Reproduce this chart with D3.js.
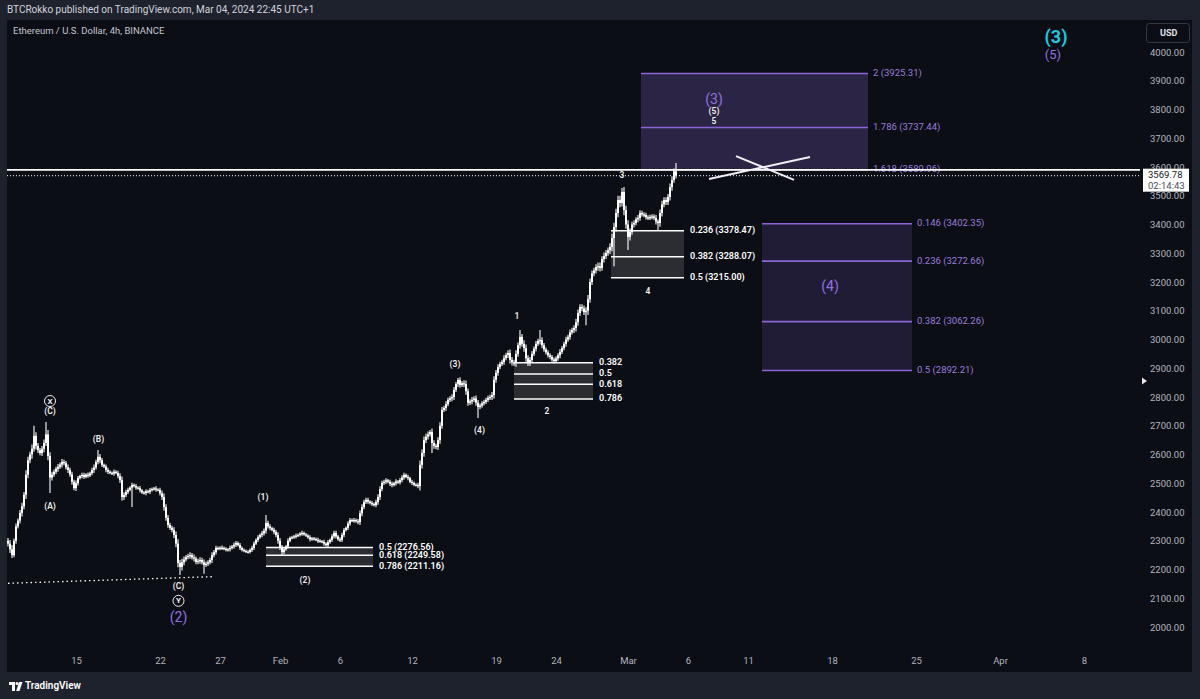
<!DOCTYPE html>
<html>

<head>
    <meta charset="utf-8">
    <style>
        body {
            margin: 0;
            background: #1e222d;
        }

        svg {
            display: block;
            font-family: Roboto, "Open Sans", sans-serif;
        }
    </style>
</head>

<body>
    <svg width="1200" height="699"></svg>

    <script src="https://d3js.org/d3.v7.min.js"></script>
    <script>
        // ETHUSD 4h candles (one close per 4h bar)
        let candleStart = "2024-01-09T08:00:00Z"
        let firstOpen = 2300
        let closes = [
            2290, 2270, 2250, 2300, 2350, 2370, 2397, 2420, 2460, 2530,
            2580, 2600, 2620, 2665, 2630, 2615, 2605, 2620, 2640, 2670,
            2595, 2520, 2530, 2540, 2550, 2557, 2565, 2574, 2570, 2555,
            2546, 2530, 2505, 2483, 2500, 2518, 2525, 2529, 2522, 2530,
            2527, 2535, 2546, 2555, 2574, 2592, 2580, 2564, 2558, 2546,
            2540, 2536, 2534, 2540, 2536, 2525, 2511, 2452, 2459, 2470,
            2477, 2485, 2494, 2490, 2485, 2483, 2475, 2468, 2466, 2472,
            2470, 2476, 2480, 2482, 2478, 2477, 2465, 2452, 2417, 2380,
            2355, 2345, 2337, 2320, 2290, 2223, 2209, 2225, 2235, 2243,
            2247, 2250, 2242, 2238, 2226, 2230, 2233, 2225, 2216, 2220,
            2225, 2233, 2250, 2260, 2275, 2272, 2276, 2275, 2272, 2268,
            2270, 2275, 2280, 2286, 2292, 2285, 2275, 2268, 2265, 2262,
            2261, 2268, 2275, 2290, 2303, 2312, 2320, 2326, 2335, 2362,
            2350, 2344, 2338, 2330, 2320, 2300, 2278, 2261, 2270, 2280,
            2300, 2310, 2312, 2315, 2318, 2320, 2325, 2327, 2322, 2318,
            2312, 2305, 2308, 2306, 2303, 2300, 2298, 2296, 2290, 2285,
            2295, 2303, 2315, 2327, 2315, 2305, 2303, 2320, 2337, 2345,
            2360, 2372, 2370, 2372, 2368, 2365, 2395, 2417, 2435, 2442,
            2436, 2431, 2428, 2424, 2435, 2452, 2480, 2501, 2505, 2510,
            2505, 2498, 2494, 2500, 2506, 2503, 2511, 2520, 2529, 2522,
            2518, 2505, 2501, 2495, 2494, 2490, 2564, 2605, 2650, 2662,
            2670, 2678, 2640, 2630, 2626, 2650, 2700, 2755, 2762, 2775,
            2790, 2795, 2800, 2825, 2845, 2859, 2842, 2848, 2845, 2820,
            2780, 2785, 2790, 2795, 2780, 2765, 2770, 2778, 2783, 2790,
            2797, 2800, 2807, 2860, 2884, 2904, 2915, 2922, 2935, 2946,
            2953, 2929, 2920, 2918, 2950, 2980, 3009, 2985, 2970, 2935,
            2918, 2929, 2950, 2968, 2985, 2995, 2998, 2980, 2965, 2955,
            2945, 2939, 2930, 2925, 2934, 2945, 2957, 2970, 2985, 3000,
            3009, 3025, 3033, 3040, 3060, 3092, 3113, 3108, 3095, 3100,
            3140, 3200, 3230, 3240, 3252, 3255, 3249, 3280, 3290, 3301,
            3310, 3322, 3353, 3391, 3440, 3485, 3475, 3513, 3450, 3400,
            3357, 3374, 3400, 3405, 3418, 3423, 3440, 3435, 3433, 3425,
            3423, 3426, 3428, 3423, 3410, 3405, 3440, 3470, 3485, 3478,
            3496, 3530, 3555, 3585, 3569.78
        ]
        // typical wick length of each bar, in dollars
        let wickSize = [
            20, 25, 30, 15, 20, 15, 20, 25, 20, 30,
            25, 20, 30, 20, 25, 20, 15, 20, 25, 20,
            30, 25, 20, 15, 15, 20, 15, 20, 15, 15,
            20, 15, 20, 15, 20, 15, 10, 15, 15, 10,
            15, 10, 15, 20, 15, 15, 20, 15, 10, 15,
            15, 10, 10, 15, 10, 15, 20, 25, 20, 15,
            15, 10, 15, 10, 15, 10, 15, 10, 10, 15,
            10, 15, 10, 10, 15, 10, 15, 20, 25, 20,
            20, 15, 15, 20, 25, 30, 20, 25, 20, 15,
            15, 20, 15, 20, 15, 15, 20, 15, 20, 15,
            15, 15, 20, 15, 15, 10, 10, 15, 10, 10,
            10, 15, 10, 15, 15, 10, 15, 10, 10, 10,
            10, 10, 15, 15, 10, 15, 10, 15, 15, 20,
            15, 15, 10, 15, 15, 20, 20, 15, 15, 10,
            15, 10, 10, 10, 15, 10, 10, 15, 10, 10,
            10, 15, 10, 10, 10, 15, 10, 10, 15, 10,
            15, 10, 15, 15, 15, 10, 15, 15, 15, 10,
            15, 15, 10, 15, 10, 15, 20, 20, 15, 15,
            15, 10, 15, 10, 15, 20, 20, 15, 15, 15,
            10, 15, 15, 10, 15, 10, 15, 15, 15, 10,
            15, 10, 15, 10, 10, 15, 30, 25, 25, 20,
            20, 15, 25, 20, 15, 20, 25, 20, 15, 20,
            15, 15, 20, 20, 15, 20, 20, 15, 20, 25,
            20, 15, 20, 15, 20, 20, 15, 15, 15, 15,
            15, 15, 20, 25, 20, 20, 15, 15, 20, 15,
            20, 25, 20, 20, 25, 20, 25, 20, 25, 25,
            20, 20, 20, 15, 20, 15, 25, 20, 15, 15,
            15, 15, 15, 15, 15, 15, 20, 15, 15, 20,
            15, 20, 15, 20, 25, 25, 20, 20, 20, 25,
            30, 25, 20, 20, 20, 25, 25, 20, 25, 20,
            20, 25, 30, 30, 30, 30, 30, 25, 35, 30,
            30, 25, 20, 20, 15, 20, 20, 15, 15, 15,
            15, 15, 15, 15, 20, 15, 25, 25, 20, 20,
            20, 25, 25, 20, 20
        ]
        // the long wicks that stick out  [bar index, price]
        let wickHighs = [[13, 2700], [19, 2713], [45, 2616], [129, 2390], [225, 2866], [256, 3033], [266, 3033], [307, 3527], [334, 3614]]
        let wickLows = [[2, 2240], [21, 2466], [62, 2417], [86, 2181], [98, 2185], [137, 2250], [212, 2605], [235, 2727], [289, 3050], [303, 3255], [310, 3311], [325, 3380]]

        let priceTicks = [2000, 2100, 2200, 2300, 2400, 2500, 2600, 2700, 2800, 2900, 3000, 3100, 3200, 3300, 3400, 3500, 3600, 3700, 3800, 3900, 4000]
        let dateTicks = ["2024-01-15", "2024-01-22", "2024-01-27", "2024-02-01", "2024-02-06", "2024-02-12", "2024-02-19", "2024-02-24",
            "2024-03-01", "2024-03-06", "2024-03-11", "2024-03-18", "2024-03-25", "2024-04-01", "2024-04-08"]
        let dateLabels = ["15", "22", "27", "Feb", "6", "12", "19", "24", "Mar", "6", "11", "18", "25", "Apr", "8"]

        let lastPrice = 3569.78
        let countdown = "02:14:43"
        let whiteLevel = 3590

        // fib extension for wave (3)
        let fib3Levels = ["2", "1.786", "1.618"]
        let fib3Prices = [3925.31, 3737.44, 3589.96]
        let fib3Dates = ["2024-03-02T02:00Z", "2024-03-21T00:00Z"]

        // fib retracement for wave (4)
        let fib4Levels = ["0.146", "0.236", "0.382", "0.5"]
        let fib4Prices = [3402.35, 3272.66, 3062.26, 2892.21]
        let fib4Dates = ["2024-03-12T04:00Z", "2024-03-24T16:00Z"]

        // the grey retracement boxes
        let boxW4Levels = ["0.236 (3378.47)", "0.382 (3288.07)", "0.5 (3215.00)"]
        let boxW4Prices = [3378.47, 3288.07, 3215.00]
        let boxW4Dates = ["2024-02-28T14:00Z", "2024-03-05T16:00Z"]

        let boxW2Levels = ["0.382", "0.5", "0.618", "0.786"]
        let boxW2Prices = [2919, 2880, 2844, 2793]
        let boxW2Dates = ["2024-02-20T12:00Z", "2024-02-27T02:00Z"]

        let boxP2Levels = ["0.5 (2276.56)", "0.618 (2249.58)", "0.786 (2211.16)"]
        let boxP2Prices = [2276.56, 2249.58, 2211.16]
        let boxP2Dates = ["2024-01-30T20:00Z", "2024-02-08T18:00Z"]

        // elliott wave labels
        let waveText = ["(C)", "(B)", "(A)", "(C)", "(1)", "(2)", "(3)", "(4)", "1", "2", "3", "4", "(5)", "5"]
        let waveDates = ["2024-01-12T20:00Z", "2024-01-16T21:00Z", "2024-01-12T20:00Z", "2024-01-23T13:00Z", "2024-01-30T14:00Z",
            "2024-02-03T02:00Z", "2024-02-15T14:00Z", "2024-02-17T15:00Z", "2024-02-20T18:00Z", "2024-02-23T06:00Z",
            "2024-02-29T12:00Z", "2024-03-02T16:00Z", "2024-03-08T04:00Z", "2024-03-08T04:00Z"]
        let wavePrices = [2748, 2650, 2417, 2139, 2449, 2160, 2911, 2682, 3078, 2748, 3570, 3165, 3791, 3757]

        let circleText = ["X", "Y"]
        let circleDates = ["2024-01-12T20:00Z", "2024-01-23T13:00Z"]
        let circlePrices = [2786, 2091]

        let bigText = ["(2)", "(3)", "(4)", "(5)"]
        let bigDates = ["2024-01-23T13:00Z", "2024-03-08T04:00Z", "2024-03-17T20:00Z", "2024-04-05T10:00Z"]
        let bigPrices = [2031, 3833, 3183, 3988]

        let cycleText = "(3)"
        let cycleDate = "2024-04-05T16:00Z"
        let cyclePrice = 4049

        // dotted trend line under the lows, and the white "X"
        let trendDates = ["2024-01-09T08:00Z", "2024-01-26T08:00Z"]
        let trendPrices = [2152, 2175]
        let crossA = [["2024-03-07T18:00Z", 3558], ["2024-03-16T04:00Z", 3635]]
        let crossB = [["2024-03-10T00:00Z", 3638], ["2024-03-14T20:00Z", 3555]]

        // ---------------------------------------------------------------

        let svg = d3.select("svg")
        let plotLeft = 7, plotRight = 1140, plotTop = 20, plotBottom = 650

        let x = d3.scaleUtc()
            .domain([new Date("2024-01-15T00:00Z"), new Date("2024-04-08T00:00Z")])
            .range([76, 1084])

        let y = d3.scaleLinear()
            .domain([2000, 4000])
            .range([627, 52])

        // panel background
        svg.append("rect")
            .attr("x", 7).attr("y", 20)
            .attr("width", 1185).attr("height", 652)
            .attr("fill", "#0c0e15")

        svg.append("defs").append("clipPath").attr("id", "plot")
            .append("rect")
            .attr("x", plotLeft).attr("y", plotTop)
            .attr("width", plotRight - plotLeft).attr("height", plotBottom - plotTop)

        let plot = svg.append("g").attr("clip-path", "url(#plot)")

        // header
        svg.append("text")
            .attr("x", 7).attr("y", 10)
            .attr("dominant-baseline", "middle")
            .style("font-size", "10px")
            .style("fill", "#d1d4dc")
            .text("BTCRokko published on TradingView.com, Mar 04, 2024 22:45 UTC+1")

        svg.append("text")
            .attr("x", 13).attr("y", 31)
            .attr("dominant-baseline", "middle")
            .style("font-size", "9.5px")
            .style("fill", "#c3c6ce")
            .text("Ethereum / U.S. Dollar, 4h, BINANCE")

        // purple fib boxes
        function purpleFib(levels, prices, dates, fill) {
            let x0 = x(new Date(dates[0])), x1 = x(new Date(dates[1]))
            let top = d3.max(prices), bot = d3.min(prices)
            plot.append("rect")
                .attr("x", x0).attr("y", y(top))
                .attr("width", x1 - x0).attr("height", y(bot) - y(top))
                .attr("fill", fill)
            plot.selectAll(null)
                .data(prices)
                .join("line")
                .attr("x1", x0).attr("x2", x1)
                .attr("y1", d => y(d)).attr("y2", d => y(d))
                .style("stroke", "#8c64d8")
                .style("stroke-width", 1.6)
            plot.selectAll(null)
                .data(prices)
                .join("text")
                .attr("x", x1 + 5)
                .attr("y", d => y(d))
                .attr("dominant-baseline", "middle")
                .style("font-size", "9.5px")
                .style("fill", "#9a7ddc")
                .text((d, i) => levels[i] + " (" + d3.format(".2f")(d) + ")")
        }

        purpleFib(fib3Levels, fib3Prices, fib3Dates, "#2c2444")
        purpleFib(fib4Levels, fib4Prices, fib4Dates, "#211c35")

        // grey retracement boxes
        function greyBox(levels, prices, dates) {
            let x0 = x(new Date(dates[0])), x1 = x(new Date(dates[1]))
            let top = d3.max(prices), bot = d3.min(prices)
            plot.append("rect")
                .attr("x", x0).attr("y", y(top))
                .attr("width", x1 - x0).attr("height", y(bot) - y(top))
                .attr("fill", "#2b2d33")
            plot.selectAll(null)
                .data(prices)
                .join("line")
                .attr("x1", x0).attr("x2", x1)
                .attr("y1", d => y(d)).attr("y2", d => y(d))
                .style("stroke", "#ffffff")
                .style("stroke-width", 1.5)
            plot.selectAll(null)
                .data(prices)
                .join("text")
                .attr("x", x1 + 6)
                .attr("y", d => y(d))
                .attr("dominant-baseline", "middle")
                .style("font-size", "9px")
                .style("font-weight", "600")
                .style("fill", "#ffffff")
                .text((d, i) => levels[i])
        }

        greyBox(boxW4Levels, boxW4Prices, boxW4Dates)
        greyBox(boxW2Levels, boxW2Prices, boxW2Dates)
        greyBox(boxP2Levels, boxP2Prices, boxP2Dates)

        // candles
        let t0 = new Date(candleStart).getTime()
        let candles = closes.map((c, i) => {
            let o = i === 0 ? firstOpen : closes[i - 1]
            return {
                date: new Date(t0 + i * 4 * 3600 * 1000),
                open: o, close: c,
                high: Math.max(o, c) + wickSize[i] / 2,
                low: Math.min(o, c) - wickSize[i] / 2
            }
        })
        wickHighs.forEach(w => candles[w[0]].high = w[1])
        wickLows.forEach(w => candles[w[0]].low = w[1])

        plot.selectAll(".wick")
            .data(candles)
            .join("line")
            .attr("class", "wick")
            .attr("x1", d => x(d.date)).attr("x2", d => x(d.date))
            .attr("y1", d => y(d.high)).attr("y2", d => y(d.low))
            .style("stroke", "#ffffff")
            .style("stroke-width", 1.1)

        plot.selectAll(".body")
            .data(candles)
            .join("rect")
            .attr("class", "body")
            .attr("x", d => x(d.date) - 1)
            .attr("width", 2)
            .attr("y", d => y(Math.max(d.open, d.close)))
            .attr("height", d => Math.max(1.2, Math.abs(y(d.open) - y(d.close))))
            .style("fill", "#ffffff")

        // horizontal lines
        plot.append("line")
            .attr("x1", plotLeft).attr("x2", plotRight)
            .attr("y1", y(whiteLevel)).attr("y2", y(whiteLevel))
            .style("stroke", "#ffffff")
            .style("stroke-width", 1.6)

        plot.append("line")
            .attr("x1", plotLeft).attr("x2", plotRight)
            .attr("y1", y(lastPrice)).attr("y2", y(lastPrice))
            .style("stroke", "#ffffff")
            .style("stroke-width", 1)
            .style("stroke-dasharray", "1,2")

        plot.append("line")
            .attr("x1", x(new Date(trendDates[0]))).attr("x2", x(new Date(trendDates[1])))
            .attr("y1", y(trendPrices[0])).attr("y2", y(trendPrices[1]))
            .style("stroke", "#ffffff")
            .style("stroke-width", 1.3)
            .style("stroke-dasharray", "1.5,3")

        // the X
        plot.selectAll(".cross")
            .data([crossA, crossB])
            .join("line")
            .attr("class", "cross")
            .attr("x1", d => x(new Date(d[0][0]))).attr("y1", d => y(d[0][1]))
            .attr("x2", d => x(new Date(d[1][0]))).attr("y2", d => y(d[1][1]))
            .style("stroke", "#f2eef8")
            .style("stroke-width", 2)

        // wave labels
        plot.selectAll(".wave")
            .data(waveText)
            .join("text")
            .attr("class", "wave")
            .attr("x", (d, i) => x(new Date(waveDates[i])))
            .attr("y", (d, i) => y(wavePrices[i]))
            .attr("text-anchor", "middle")
            .attr("dominant-baseline", "middle")
            .style("font-size", "8.5px")
            .style("font-weight", "600")
            .style("fill", "#f0f0f0")
            .text(d => d)

        let circles = plot.selectAll(".circ")
            .data(circleText)
            .join("g")
            .attr("class", "circ")
            .attr("transform", (d, i) => `translate(${x(new Date(circleDates[i]))},${y(circlePrices[i])})`)
        circles.append("circle")
            .attr("r", 5.5)
            .style("fill", "none")
            .style("stroke", "#f0f0f0")
            .style("stroke-width", 1)
        circles.append("text")
            .attr("text-anchor", "middle")
            .attr("dominant-baseline", "central")
            .style("font-size", "8px")
            .style("font-weight", "700")
            .style("fill", "#f0f0f0")
            .text(d => d)

        plot.selectAll(".big")
            .data(bigText)
            .join("text")
            .attr("class", "big")
            .attr("x", (d, i) => x(new Date(bigDates[i])))
            .attr("y", (d, i) => y(bigPrices[i]))
            .attr("text-anchor", "middle")
            .attr("dominant-baseline", "middle")
            .style("font-size", (d, i) => i === 3 ? "13px" : "14px")
            .style("fill", "#9370e0")
            .text(d => d)

        plot.append("text")
            .attr("x", x(new Date(cycleDate)))
            .attr("y", y(cyclePrice))
            .attr("text-anchor", "middle")
            .attr("dominant-baseline", "middle")
            .style("font-size", "18px")
            .style("font-weight", "700")
            .style("fill", "#1ec8e0")
            .text(cycleText)

        // price axis
        let yAxis = svg.append("g")
            .attr("transform", "translate(1143,0)")
            .call(d3.axisRight(y).tickValues(priceTicks).tickFormat(d3.format(".2f")).tickSize(0).tickPadding(7))
        yAxis.select(".domain").remove()
        yAxis.selectAll("text")
            .style("font-size", "9.5px")
            .style("font-family", "Roboto, sans-serif")
            .style("fill", "#b2b5be")

        // time axis
        let xAxis = svg.append("g")
            .attr("transform", "translate(0,651)")
            .call(d3.axisBottom(x).tickValues(dateTicks.map(d => new Date(d + "T00:00Z"))).tickFormat((d, i) => dateLabels[i]).tickSize(0).tickPadding(6))
        xAxis.select(".domain").remove()
        xAxis.selectAll("text")
            .style("font-size", "9.5px")
            .style("font-family", "Roboto, sans-serif")
            .style("fill", "#b2b5be")

        // USD button
        svg.append("rect")
            .attr("x", 1146.5).attr("y", 23.5)
            .attr("width", 43).attr("height", 19)
            .attr("rx", 3)
            .style("fill", "#0c0e15")
            .style("stroke", "#363a45")
        svg.append("text")
            .attr("x", 1160).attr("y", 33.5)
            .attr("dominant-baseline", "middle")
            .style("font-size", "9px")
            .style("font-weight", "700")
            .style("fill", "#e0e3eb")
            .text("USD")

        // last price tag
        let tagY = y(lastPrice)
        svg.append("rect")
            .attr("x", 1143).attr("y", tagY - 7)
            .attr("width", 46).attr("height", 23)
            .style("fill", "#ffffff")
        svg.append("text")
            .attr("x", 1148).attr("y", tagY)
            .attr("dominant-baseline", "middle")
            .style("font-size", "9.5px")
            .style("fill", "#131722")
            .text(d3.format(".2f")(lastPrice))
        svg.append("text")
            .attr("x", 1148).attr("y", tagY + 10.5)
            .attr("dominant-baseline", "middle")
            .style("font-size", "9.5px")
            .style("fill", "#4a4e59")
            .text(countdown)

        // little scroll arrow on the price scale
        svg.append("path")
            .attr("d", "M1142,377.5 L1147,381 L1142,384.5 Z")
            .style("fill", "#e8e8e8")

        // footer logo
        let logo = svg.append("g").attr("transform", "translate(9,682)").style("fill", "#ffffff")
        logo.append("path").attr("d", "M0,0 H6 V9 H3 V3 H0 Z")
        logo.append("circle").attr("cx", 8).attr("cy", 1.5).attr("r", 1.5)
        logo.append("path").attr("d", "M10,0 H13.5 L10.5,9 H7.2 Z")
        svg.append("text")
            .attr("x", 25).attr("y", 686.5)
            .attr("dominant-baseline", "middle")
            .style("font-size", "10px")
            .style("font-weight", "600")
            .style("fill", "#ffffff")
            .text("TradingView")
    </script>
</body>

</html>
